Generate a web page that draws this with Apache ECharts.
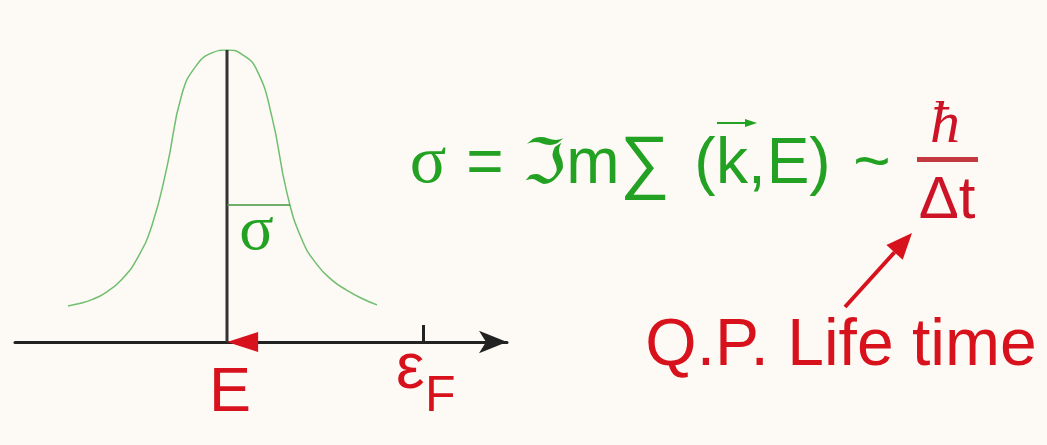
<!DOCTYPE html>
<html>
<head>
<meta charset="utf-8">
<script src="https://cdn.jsdelivr.net/npm/echarts@6/dist/echarts.min.js"></script>
<style>
  html, body { margin: 0; padding: 0; background: #fdf9f4; }
  #chart { width: 1047px; height: 445px; }
</style>
</head>
<body>
<div id="chart"></div>
<script>
// Spectral function of a quasi-particle: energy in units of the half width,
// weight normalised to the peak value.
const energy = [-2.65, -2.5, -2.25, -2, -1.75, -1.5, -1.25, -1, -0.75, -0.5, -0.25, 0,
                0.25, 0.5, 0.75, 1, 1.25, 1.5, 1.75, 2, 2.25, 2.5];
const weight = [0.123, 0.13, 0.145, 0.172, 0.215, 0.285, 0.40, 0.60, 0.85, 0.95, 0.99, 1,
                0.985, 0.93, 0.77, 0.51, 0.35, 0.265, 0.212, 0.177, 0.149, 0.127];

const peakEnergy = 0;       // E
const fermiEnergy = 3.27;   // εF
const halfWidth = 1.05;     // σ
const halfHeight = 0.469;
const shiftFrom = 0.52;     // start of the red shift arrow toward E

const tickLabels = ['E', 'ε', 'F'];
const formulaParts = ['σ', '=', 'ℑ', 'm', '∑', '(', 'k', ',', 'E', ')', '~'];
const numerator = 'ħ';
const denominator = 'Δt';
const lifeTimeText = 'Q.P. Life time';

const RED = '#d8121c';
const DARK_RED = '#cc1426';
const GREEN = '#22a122';
const SANS = '"Liberation Sans", Arial, sans-serif';
const SERIF = '"Liberation Serif", "Times New Roman", serif';
const DEJAVU = '"DejaVu Sans", sans-serif';

const chart = echarts.init(document.getElementById('chart'), null, { renderer: 'canvas' });

chart.setOption({
  animation: false,
  backgroundColor: '#fdf9f4',
  grid: { left: 15, right: 540, top: 50, bottom: 103 },
  xAxis: {
    type: 'value',
    min: -3.5333,
    max: 4.6667,
    axisLine: {
      show: true,
      onZero: true,
      symbol: ['none', 'arrow'],
      symbolSize: [17, 28],
      lineStyle: { color: '#222', width: 3 }
    },
    axisTick: {
      show: true,
      customValues: [fermiEnergy],
      inside: true,
      length: 17,
      lineStyle: { color: '#222', width: 3 }
    },
    axisLabel: { show: false },
    splitLine: { show: false }
  },
  yAxis: { type: 'value', min: 0, max: 1, show: false },
  series: [
    {
      name: 'A(E)',
      type: 'line',
      smooth: 0.5,
      showSymbol: false,
      data: energy.map((e, i) => [e, weight[i]]),
      lineStyle: { color: '#6fbf6f', width: 1.5 },
      z: 2
    },
    {
      name: 'peak',
      type: 'line',
      showSymbol: false,
      data: [[peakEnergy, 0], [peakEnergy, 1]],
      lineStyle: { color: '#333', width: 3 },
      z: 3
    },
    {
      name: 'sigma',
      type: 'line',
      showSymbol: false,
      data: [[peakEnergy, halfHeight], [peakEnergy + halfWidth, halfHeight]],
      lineStyle: { color: '#3f993f', width: 1.5 },
      z: 3
    },
    {
      name: 'shift',
      type: 'scatter',
      symbol: 'triangle',
      symbolRotate: 90,
      symbolSize: [20, 31],
      data: [[(peakEnergy + shiftFrom) / 2, 0]],
      itemStyle: { color: RED, opacity: 1 },
      z: 5
    }
  ]
});

// text drawn on a shared baseline (canvas "middle" sits ~0.31em above it)
function label(str, cx, baseline, size, family, color, style) {
  return {
    type: 'text', x: cx, y: baseline - 0.31 * size, z: 10,
    style: {
      text: str, fill: color,
      font: (style || '') + ' ' + size + 'px ' + family,
      align: 'center', verticalAlign: 'middle'
    }
  };
}

function arrow(x1, y1, x2, y2, len, wid, color, lw) {
  const a = Math.atan2(y2 - y1, x2 - x1);
  const bx = x2 - len * Math.cos(a), by = y2 - len * Math.sin(a);
  const nx = -Math.sin(a) * wid / 2, ny = Math.cos(a) * wid / 2;
  return [
    { type: 'line', z: 10, shape: { x1: x1, y1: y1, x2: bx, y2: by }, style: { stroke: color, lineWidth: lw } },
    { type: 'polygon', z: 10, shape: { points: [[x2, y2], [bx + nx, by + ny], [bx - nx, by - ny]] }, style: { fill: color } }
  ];
}

const eP = chart.convertToPixel({ gridIndex: 0 }, [peakEnergy, 0]);
const fP = chart.convertToPixel({ gridIndex: 0 }, [fermiEnergy, 0]);
const sP = chart.convertToPixel({ gridIndex: 0 }, [peakEnergy + halfWidth / 2, halfHeight]);

const partX = [428, 485, 544, 593, 645, 705, 732, 757, 788, 820, 872];
const partBase = [185, 185, 186, 185, 187, 185, 185, 185, 185, 185, 185];
const partFont = [SERIF, SANS, DEJAVU, SANS, SANS, SANS, SANS, SANS, SANS, SANS, SANS];
const partSize = [68, 64, 62, 64, 70, 64, 64, 64, 64, 64, 64];

const graphics = [
  label(tickLabels[0], eP[0] + 3, 413, 63, SANS, RED),
  label(tickLabels[1], fP[0] - 13, 390, 64, SANS, RED),
  label(tickLabels[2], fP[0] + 17, 413, 50, SANS, RED),
  label('σ', sP[0] - 2, 252, 64, SERIF, GREEN)
];
formulaParts.forEach((p, i) => {
  graphics.push(label(p, partX[i], partBase[i], partSize[i], partFont[i], GREEN));
});
// vector arrow over k
graphics.push(...arrow(717, 123, 757, 123, 12, 8, GREEN, 2));
// fraction ħ / Δt
graphics.push(label(numerator, 945, 145, 60, SERIF, DARK_RED, 'italic'));
graphics.push({ type: 'rect', z: 10, shape: { x: 917, y: 157, width: 61, height: 5 }, style: { fill: '#c23a40' } });
graphics.push(label(denominator, 947, 220, 60, SANS, DARK_RED));
// lifetime annotation
graphics.push(...arrow(845, 307, 912, 233, 26, 22, RED, 4));
graphics.push(label(lifeTimeText, 841, 367, 66, SANS, RED));

chart.setOption({ graphic: graphics });
</script>
</body>
</html>
